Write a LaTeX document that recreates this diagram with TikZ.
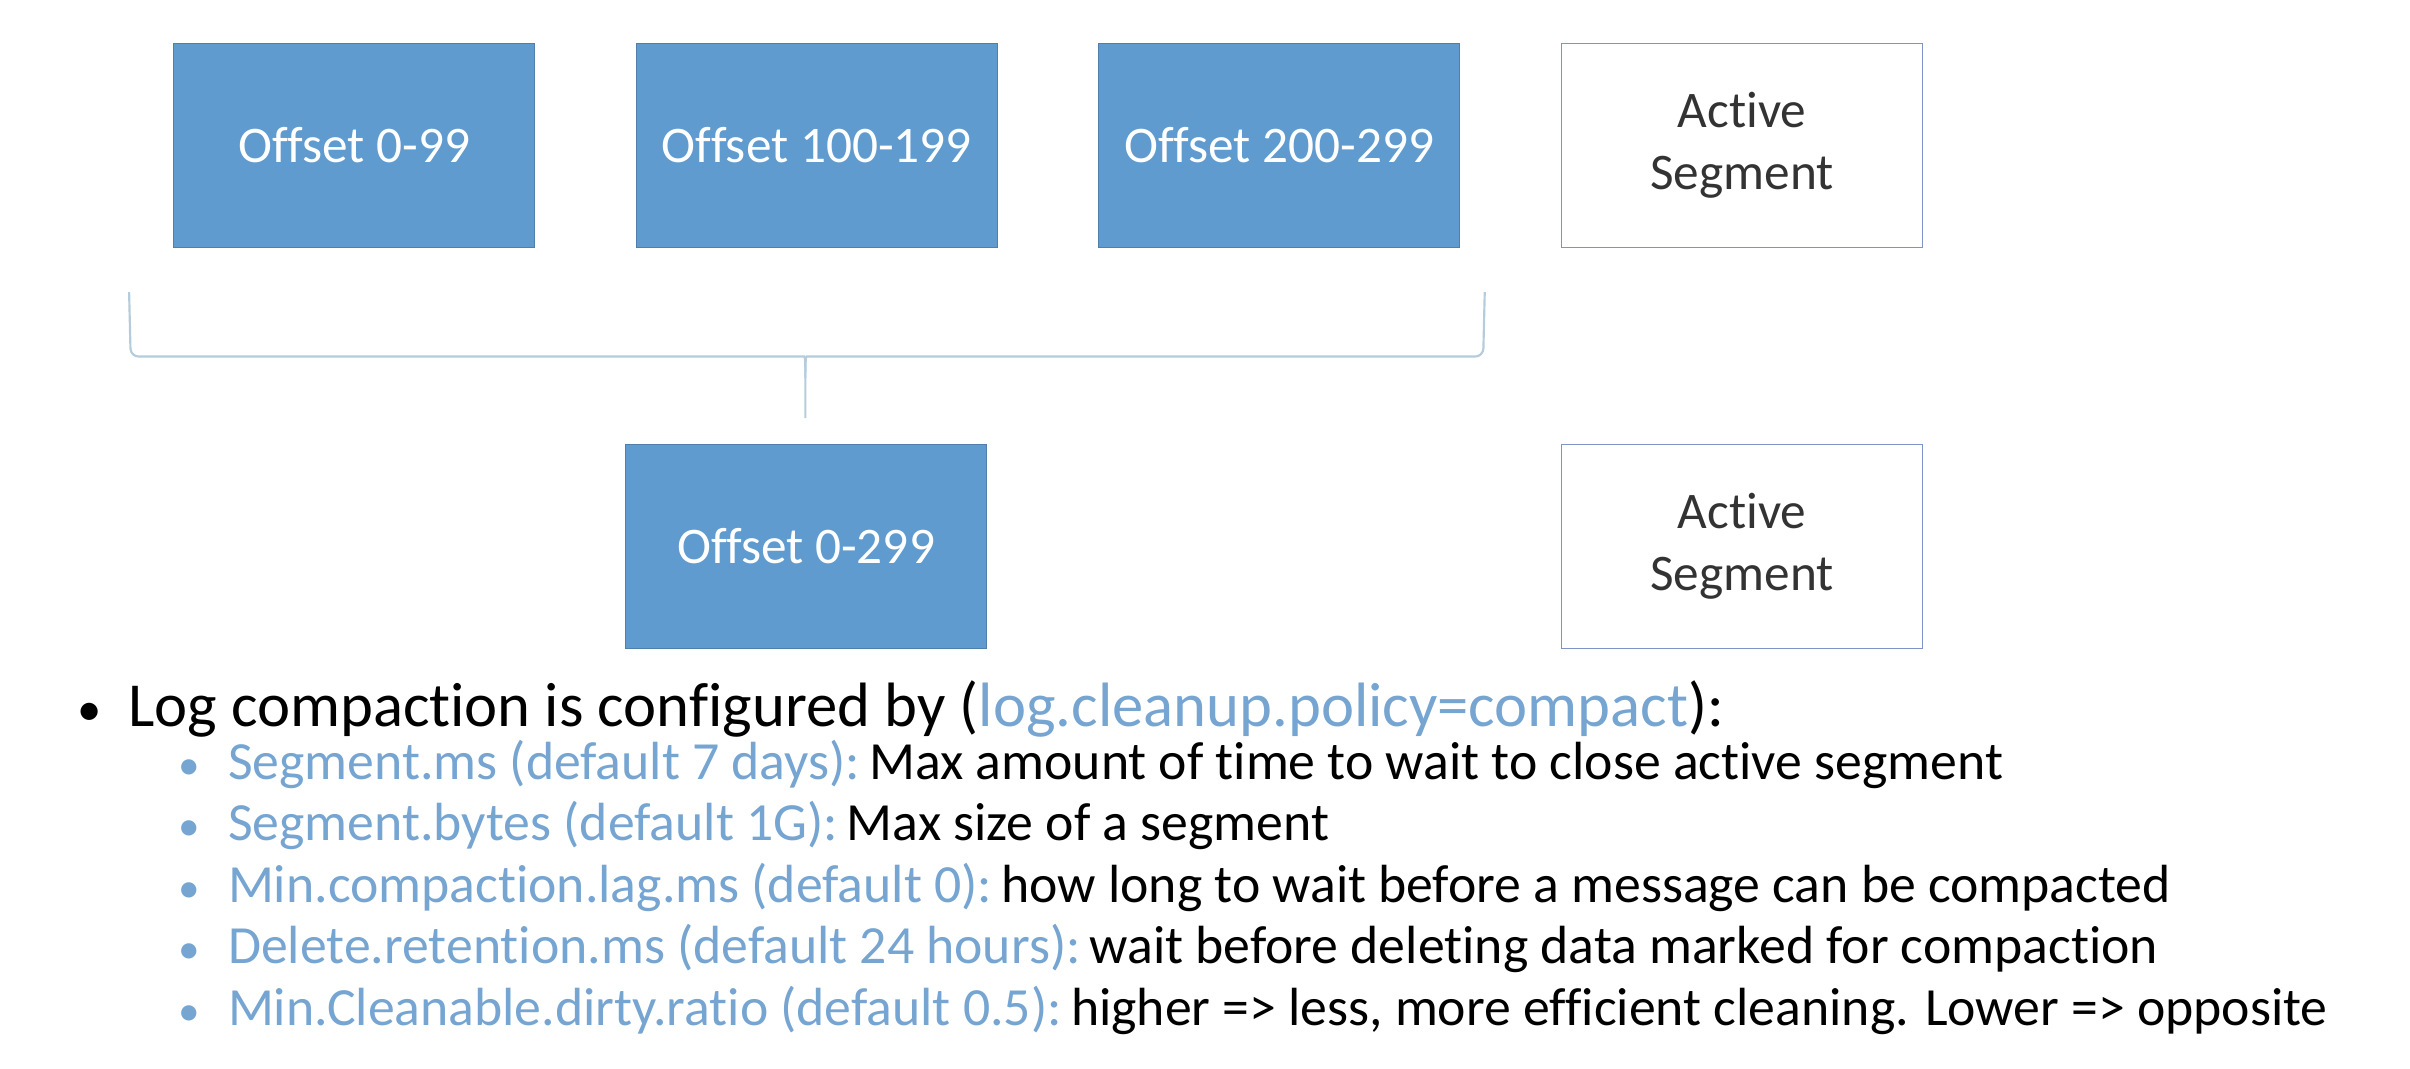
\documentclass[tikz,border=0pt]{standalone}
\usepackage{fontspec}
\setmainfont{Carlito}[Ligatures={NoCommon}]
\usepackage{tikz}
\usetikzlibrary{positioning}
\definecolor{boxblue}{HTML}{5F9BCF}
\definecolor{boxedge}{HTML}{4F7FAA}
\definecolor{activeedge}{HTML}{7F93C8}
\definecolor{keyblue}{HTML}{76A5D2}
\definecolor{bracegray}{HTML}{B4CCDC}
\tikzset{%
  segment/.style={rectangle, draw=boxedge, fill=boxblue, text=white, minimum width=4.7cm, minimum height=2.66cm, align=center, font=\fontsize{19}{23}\selectfont},
  active/.style={segment, draw=activeedge, fill=white, text=black!80},
  mainitem/.style={anchor=base west, inner sep=0pt, font=\fontsize{23.2}{27}\selectfont},
  subitem/.style={anchor=base west, inner sep=0pt, font=\fontsize{19.9}{24}\selectfont},
  subdot/.style={subitem, text=keyblue, font=\fontsize{16}{20}\selectfont},
  bracket/.style={draw=bracegray, line width=0.8pt, rounded corners=3pt}
}

\begin{document}
\begin{tikzpicture}[x=0.02cm, y=-0.02cm, node distance=6.02cm]
        \useasboundingbox (0,0) rectangle (1568,695);

        \node [segment]                                              (seg1)   at (230.5,94.5) {Offset 0-99};
        \node [segment, right of=seg1]                               (seg2)   {Offset 100-199};
        \node [segment, right of=seg2]                               (seg3)   {Offset 200-299};
        \node [active, right of=seg3]                                (act1)   {Active\\Segment};
        \node [segment, below of=seg2, node distance=5.22cm, xshift=-0.14cm] (merged) {Offset 0-299};
        \node [active, below of=act1, node distance=5.22cm]          (act2)   {Active\\Segment};

        % brace gathering the three old segments
        \coordinate (bleft)  at (84,190);
        \coordinate (bright) at (966,190);
        \coordinate (btip)   at (524,272);
        \draw [bracket] (bleft) -- (85,232) -- (518,232) to[out=0, in=90] (524,246) -- (btip);
        \draw [bracket] (bright) -- (965,232) -- (530,232) to[out=180, in=90] (524,246);

        % settings
        \node [mainitem, font=\fontsize{18}{20}\selectfont] (dot0) at (50,472) {•};
        \node [mainitem] (lead) at (83,473) {Log compaction is configured by (\textcolor{keyblue}{log.cleanup.policy=compact}):};
        \node [subdot]  (dot1) at (116,507) {•};
        \node [subitem] (set1) at (148,507) {\textcolor{keyblue}{Segment.ms (default 7 days):}\,Max amount of time to wait to close active segment};
        \node [subdot]  (dot2) at (116,547) {•};
        \node [subitem] (set2) at (148,547) {\textcolor{keyblue}{Segment.bytes (default 1G):}\,Max size of a segment};
        \node [subdot]  (dot3) at (116,587) {•};
        \node [subitem] (set3) at (148,587) {\textcolor{keyblue}{Min.compaction.lag.ms (default 0):}\,how long to wait before a message can be compacted};
        \node [subdot]  (dot4) at (116,627) {•};
        \node [subitem] (set4) at (148,627) {\textcolor{keyblue}{Delete.retention.ms (default 24 hours):}\,wait before deleting data marked for compaction};
        \node [subdot]  (dot5) at (116,667) {•};
        \node [subitem] (set5) at (148,667) {\textcolor{keyblue}{Min.Cleanable.dirty.ratio (default 0.5):}\,higher => less, more efficient cleaning. Lower => opposite};
    \end{tikzpicture}
\end{document}
